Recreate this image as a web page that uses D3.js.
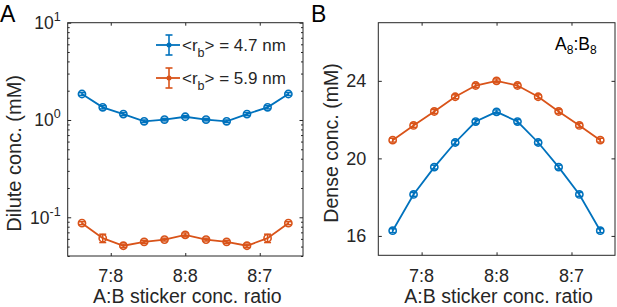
<!DOCTYPE html>
<html>
<head>
<meta charset="utf-8">
<script src="https://cdn.jsdelivr.net/npm/d3@7"></script>
<style>
  body { margin: 0; background: #fff; }
  svg { font-family: "Liberation Sans", Arial, sans-serif; }
</style>
</head>
<body>
<div id="container"></div>
<script>
// A:B sticker concentration ratio of each simulation (log-spaced around 8:8)
let ratios = [0.831, 0.8625, 0.895, 0.929, 0.9635, 1.0, 1.038, 1.077, 1.117, 1.159, 1.203];
let tickRatios = [7 / 8, 1, 8 / 7];
let tickLabels = ["7:8", "8:8", "8:7"];

// panel A: dilute conc. (mM), log axis
let diluteSmall = [1.85, 1.35, 1.15, 0.97, 1.01, 1.08, 1.01, 0.97, 1.15, 1.35, 1.85];
let diluteSmallErr = [0.06, 0.05, 0.04, 0.03, 0.03, 0.03, 0.03, 0.03, 0.04, 0.05, 0.06];
let diluteLarge = [0.087, 0.061, 0.051, 0.056, 0.059, 0.066, 0.059, 0.056, 0.051, 0.061, 0.087];
let diluteLargeErr = [0.003, 0.006, 0.002, 0.002, 0.002, 0.003, 0.002, 0.002, 0.002, 0.006, 0.003];
let diluteTicks = [0.1, 1, 10];

// panel B: dense conc. (mM)
let denseSmall = [16.27, 18.14, 19.55, 20.82, 21.9, 22.4, 21.9, 20.82, 19.55, 18.14, 16.27];
let denseLarge = [20.94, 21.7, 22.42, 23.18, 23.76, 24.0, 23.76, 23.18, 22.42, 21.7, 20.94];
let denseErr = [0.1, 0.1, 0.1, 0.1, 0.1, 0.1, 0.1, 0.1, 0.1, 0.1, 0.1];
let denseTicks = [16, 20, 24];

let seriesNames = ["4.7 nm", "5.9 nm"];
let blue = "#0072BD";
let orange = "#D95319";
let ink = "#262626";

let w = 617;
let h = 307;

let svg = d3.select("#container")
  .append("svg")
    .attr("width", w)
    .attr("height", h);

function makePanel(left, right, top, bottom, yScale) {
  let xScale = d3.scaleLog().domain([0.81, 1.235]).range([left, right]);
  let g = svg.append("g");

  // bottom & top x ticks
  let xb = d3.axisBottom(xScale).tickValues(tickRatios).tickSize(-3).tickFormat("");
  g.append("g").attr("transform", "translate(0," + bottom + ")").call(xb);
  let xt = d3.axisTop(xScale).tickValues(tickRatios).tickSize(-3).tickFormat("");
  g.append("g").attr("transform", "translate(0," + top + ")").call(xt);

  g.selectAll(".domain").remove();
  g.selectAll(".tick line").attr("stroke", ink);

  // x tick labels
  g.selectAll(".xlab")
    .data(tickRatios)
    .enter()
    .append("text")
      .attr("x", d => xScale(d))
      .attr("y", 281.5)
      .attr("text-anchor", "middle")
      .attr("font-size", 18)
      .attr("fill", ink)
      .text((d, i) => tickLabels[i]);

  g.append("text")
    .attr("x", (left + right) / 2 + 2)
    .attr("y", 303)
    .attr("text-anchor", "middle")
    .attr("font-size", 19.5)
    .attr("fill", ink)
    .text("A:B sticker conc. ratio");

  return { g: g, x: xScale };
}

function drawSeries(p, yScale, vals, errs, color) {
  let line = d3.line()
    .x((d, i) => p.x(ratios[i]))
    .y(d => yScale(d));
  p.g.append("path")
    .datum(vals)
    .attr("fill", "none")
    .attr("stroke", color)
    .attr("stroke-width", 1.8)
    .attr("d", line);

  let pts = p.g.selectAll(null)
    .data(vals)
    .enter()
    .append("g")
      .attr("transform", (d, i) => "translate(" + p.x(ratios[i]) + ",0)");

  pts.append("line")
    .attr("x1", 0).attr("x2", 0)
    .attr("y1", (d, i) => yScale(d - errs[i]))
    .attr("y2", (d, i) => yScale(d + errs[i]))
    .attr("stroke", color).attr("stroke-width", 1.5);
  pts.append("line")
    .attr("x1", -3.5).attr("x2", 3.5)
    .attr("y1", (d, i) => yScale(d - errs[i]))
    .attr("y2", (d, i) => yScale(d - errs[i]))
    .attr("stroke", color).attr("stroke-width", 1.5);
  pts.append("line")
    .attr("x1", -3.5).attr("x2", 3.5)
    .attr("y1", (d, i) => yScale(d + errs[i]))
    .attr("y2", (d, i) => yScale(d + errs[i]))
    .attr("stroke", color).attr("stroke-width", 1.5);
  pts.append("circle")
    .attr("cx", 0)
    .attr("cy", d => yScale(d))
    .attr("r", 3.6)
    .attr("fill", "none")
    .attr("stroke", color)
    .attr("stroke-width", 1.6);
}

// ---------- panel A ----------
let aL = 67.7, aR = 303, aT = 22.7, aB = 256;
let yA = d3.scaleLog().domain([0.04, 10]).range([aB, aT]);
let pA = makePanel(aL, aR, aT, aB, yA);

// log y ticks, left and right, with minor ticks
let minorA = [];
[0.01, 0.1, 1].forEach(dec => {
  for (let k = 2; k <= 9; k++) {
    let v = dec * k;
    if (v >= 0.04 && v <= 10) minorA.push(v);
  }
});
let ylA = d3.axisLeft(yA).tickValues(diluteTicks).tickSize(-3.5).tickFormat("");
pA.g.append("g").attr("transform", "translate(" + aL + ",0)").call(ylA);
let yrA = d3.axisRight(yA).tickValues(diluteTicks).tickSize(-3.5).tickFormat("");
pA.g.append("g").attr("transform", "translate(" + aR + ",0)").call(yrA);
let ylmA = d3.axisLeft(yA).tickValues(minorA).tickSize(-2).tickFormat("");
pA.g.append("g").attr("transform", "translate(" + aL + ",0)").call(ylmA);
let yrmA = d3.axisRight(yA).tickValues(minorA).tickSize(-2).tickFormat("");
pA.g.append("g").attr("transform", "translate(" + aR + ",0)").call(yrmA);
pA.g.selectAll(".domain").remove();
pA.g.selectAll(".tick line").attr("stroke", ink);

let yLabA = pA.g.selectAll(".ylabA")
  .data(diluteTicks)
  .enter()
  .append("text")
    .attr("x", aL - 7)
    .attr("y", d => yA(d) + 6.3)
    .attr("text-anchor", "end")
    .attr("fill", ink)
    .attr("font-size", 17.5);
yLabA.append("tspan").text("10");
yLabA.append("tspan")
  .attr("dy", -8)
  .attr("font-size", 12.5)
  .text(d => String(Math.round(Math.log10(d))));

pA.g.append("rect")
  .attr("x", aL).attr("y", aT)
  .attr("width", aR - aL).attr("height", aB - aT)
  .attr("fill", "none").attr("stroke", ink).attr("stroke-width", 1);

drawSeries(pA, yA, diluteSmall, diluteSmallErr, blue);
drawSeries(pA, yA, diluteLarge, diluteLargeErr, orange);

pA.g.append("text")
  .attr("transform", "translate(20.5," + ((aT + aB) / 2 + 14) + ") rotate(-90)")
  .attr("text-anchor", "middle")
  .attr("font-size", 20)
  .attr("fill", ink)
  .text("Dilute conc. (mM)");

svg.append("text")
  .attr("x", 0).attr("y", 22)
  .attr("font-size", 23)
  .attr("fill", "#000")
  .text("A");

// legend
let legY = [45, 78];
[blue, orange].forEach((c, i) => {
  let lg = svg.append("g").attr("transform", "translate(169," + legY[i] + ")");
  lg.append("line").attr("x1", -13).attr("x2", 11).attr("y1", 0).attr("y2", 0)
    .attr("stroke", c).attr("stroke-width", 1.8);
  lg.append("line").attr("x1", 0).attr("x2", 0).attr("y1", -10).attr("y2", 10)
    .attr("stroke", c).attr("stroke-width", 1.6);
  lg.append("line").attr("x1", -3.5).attr("x2", 3.5).attr("y1", -10).attr("y2", -10)
    .attr("stroke", c).attr("stroke-width", 1.6);
  lg.append("line").attr("x1", -3.5).attr("x2", 3.5).attr("y1", 10).attr("y2", 10)
    .attr("stroke", c).attr("stroke-width", 1.6);
  lg.append("circle").attr("r", 2.5).attr("fill", c);
  let t = lg.append("text").attr("x", 13).attr("y", 6).attr("font-size", 17).attr("fill", ink);
  t.append("tspan").text("<r");
  t.append("tspan").attr("dy", 6).attr("font-size", 12.5).text("b");
  t.append("tspan").attr("dy", -6).text("> = " + seriesNames[i]);
});

// ---------- panel B ----------
let bL = 378.3, bR = 615, bT = 22.7, bB = 255.3;
let yB = d3.scaleLinear().domain([15, 27]).range([bB, bT]);
let pB = makePanel(bL, bR, bT, bB, yB);

let ylB = d3.axisLeft(yB).tickValues(denseTicks).tickSize(-3.5).tickPadding(12)
  .tickFormat(d3.format("d"));
pB.g.append("g").attr("transform", "translate(" + bL + ",0)").call(ylB);
let yrB = d3.axisRight(yB).tickValues(denseTicks).tickSize(-3.5).tickFormat("");
pB.g.append("g").attr("transform", "translate(" + bR + ",0)").call(yrB);
pB.g.selectAll(".domain").remove();
pB.g.selectAll(".tick line").attr("stroke", ink);
pB.g.selectAll(".tick text")
  .attr("font-size", 18)
  .attr("fill", ink)
  .attr("font-family", "Liberation Sans, Arial, sans-serif");

pB.g.append("rect")
  .attr("x", bL).attr("y", bT)
  .attr("width", bR - bL).attr("height", bB - bT)
  .attr("fill", "none").attr("stroke", ink).attr("stroke-width", 1);

drawSeries(pB, yB, denseLarge, denseErr, orange);
drawSeries(pB, yB, denseSmall, denseErr, blue);

pB.g.append("text")
  .attr("transform", "translate(337.5," + ((bT + bB) / 2 + 4) + ") rotate(-90)")
  .attr("text-anchor", "middle")
  .attr("font-size", 19.5)
  .attr("fill", ink)
  .text("Dense conc. (mM)");

svg.append("text")
  .attr("x", 311).attr("y", 22)
  .attr("font-size", 23)
  .attr("fill", "#000")
  .text("B");

let ab = svg.append("text").attr("x", 555).attr("y", 50).attr("font-size", 17.5).attr("fill", "#000");
ab.append("tspan").text("A");
ab.append("tspan").attr("dy", 4).attr("font-size", 12).text("8");
ab.append("tspan").attr("dy", -4).text(":B");
ab.append("tspan").attr("dy", 4).attr("font-size", 12).text("8");
</script>
</body>
</html>
